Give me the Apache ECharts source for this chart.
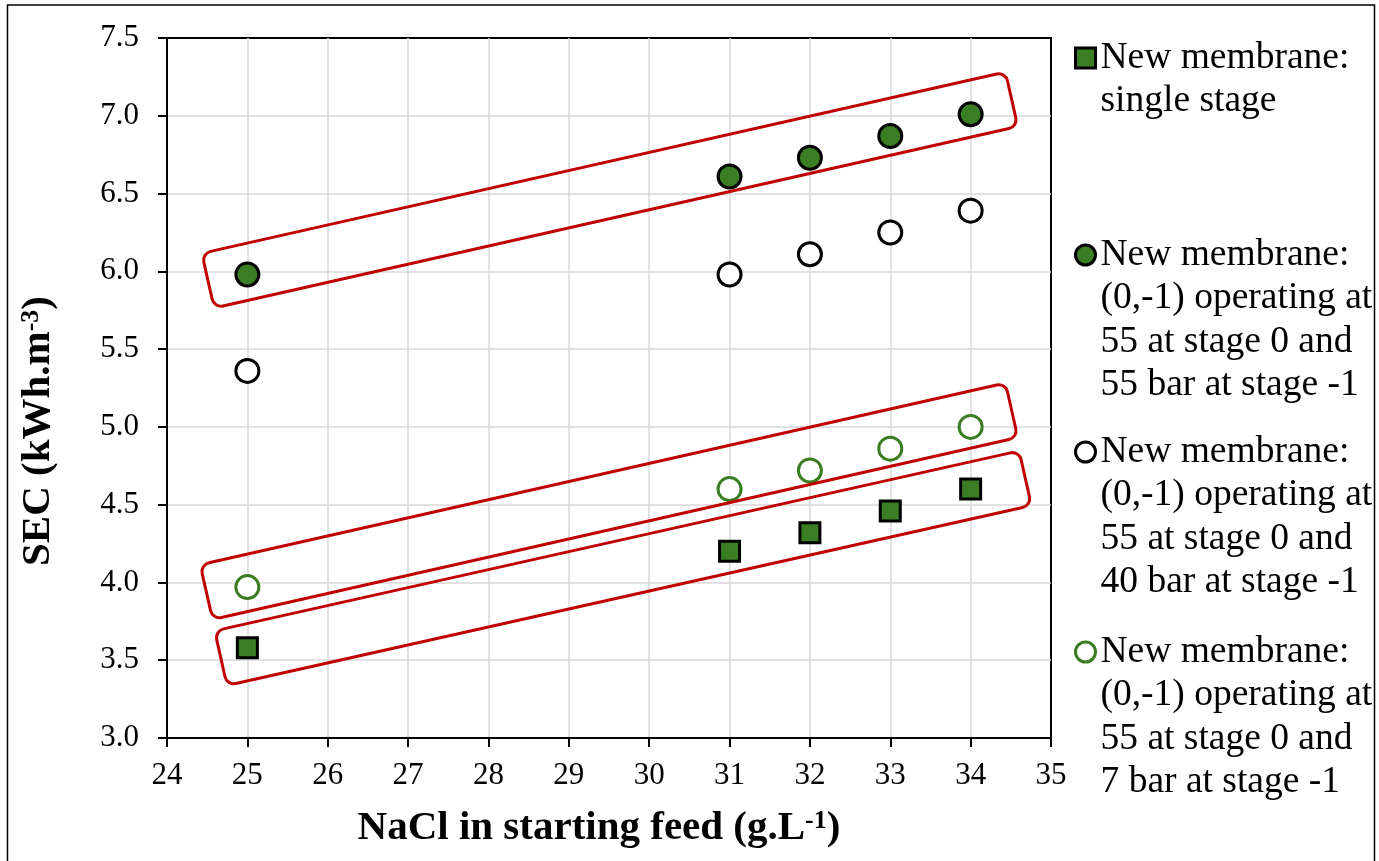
<!DOCTYPE html>
<html>
<head>
<meta charset="utf-8">
<script src="https://cdn.jsdelivr.net/npm/echarts@6/dist/echarts.min.js"></script>
<style>
html,body{margin:0;padding:0;background:#ffffff;}
#chart{width:1379px;height:861px;}
</style>
</head>
<body>
<div id="chart"></div>
<script>
// ---- data ----
const naclFeed = [25, 31, 32, 33, 34];
const secSingleStage = [3.58, 4.20, 4.32, 4.46, 4.60];
const secTwoStage55 = [5.98, 6.61, 6.73, 6.87, 7.01];
const secTwoStage40 = [5.36, 5.98, 6.11, 6.25, 6.39];
const secTwoStage7 = [3.97, 4.60, 4.72, 4.86, 5.00];
const xTickValues = [24, 25, 26, 27, 28, 29, 30, 31, 32, 33, 34, 35];
const yTickValues = [3.0, 3.5, 4.0, 4.5, 5.0, 5.5, 6.0, 6.5, 7.0, 7.5];
const seriesNames = [
  'New membrane: single stage',
  'New membrane: (0,-1) 55/55 bar',
  'New membrane: (0,-1) 55/40 bar',
  'New membrane: (0,-1) 55/7 bar'
];
const legendLines = [
  ['New membrane:', 'single stage'],
  ['New membrane:', '(0,-1) operating at', '55 at stage 0 and', '55 bar at stage -1'],
  ['New membrane:', '(0,-1) operating at', '55 at stage 0 and', '40 bar at stage -1'],
  ['New membrane:', '(0,-1) operating at', '55 at stage 0 and', '7 bar at stage -1']
];
// highlight boxes: centre-line end points in data units [x1, y1, x2, y2]
const highlightBoxes = [
  [24.51, 5.94, 34.51, 7.106],
  [24.49, 3.938, 34.51, 5.107],
  [24.67, 3.513, 34.68, 4.67]
];

// ---- styles ----
const FONT = '"Liberation Serif", "Times New Roman", serif';
const GREEN = '#3A7D22';
const RED = '#C00000';
const BOX_THICK = 56;
const LEG_FS = 37.5, LEG_LH = 43.5;
const legendIconY = [58, 255, 452, 652];

function pairs(ys) { return naclFeed.map((x, i) => [x, ys[i]]); }

const chart = echarts.init(document.getElementById('chart'), null, {renderer: 'canvas'});

// the icon sits beside the first text line: blank lines above balance the block
const legends = seriesNames.map((name, i) => {
  const n = legendLines[i].length;
  const boxH = (2 * n - 1) * LEG_LH;
  const text = new Array(n - 1).fill('').concat(legendLines[i]).join('\n');
  return {
    data: [name],
    orient: 'vertical',
    left: 1074,
    top: legendIconY[i] - boxH / 2,
    padding: 0,
    itemWidth: 20,
    itemHeight: 20,
    selectedMode: false,
    itemStyle: {borderWidth: 3, opacity: 1},
    formatter: () => text,
    textStyle: {
      fontFamily: FONT, fontSize: LEG_FS, lineHeight: LEG_LH, color: '#000'
    }
  };
});

const option = {
  backgroundColor: '#ffffff',
  animation: false,
  grid: {
    left: 167, top: 38, width: 884, height: 700,
    show: true, borderColor: '#000', borderWidth: 2, backgroundColor: 'transparent'
  },
  legend: legends,
  graphic: [{
    type: 'rect', silent: true, z: 0,
    shape: {x: 7.5, y: 5, width: 1367, height: 900},
    style: {fill: 'none', stroke: '#000', lineWidth: 1.5}
  }],
  xAxis: {
    type: 'value',
    min: xTickValues[0], max: xTickValues[xTickValues.length - 1], interval: 1,
    name: '{b|NaCl in starting feed (g.L}{s|-1}{b|)}',
    nameLocation: 'middle', nameGap: 70,
    nameTextStyle: {
      padding: [0, 20, 0, 0],
      rich: {
        b: {fontFamily: FONT, fontSize: 41, fontWeight: 'bold', lineHeight: 41, color: '#000'},
        s: {fontFamily: FONT, fontSize: 26, fontWeight: 'bold', lineHeight: 26, verticalAlign: 'top', color: '#000'}
      }
    },
    axisLine: {show: true, onZero: false, lineStyle: {color: '#000', width: 2}},
    axisTick: {show: true, inside: false, length: 9, lineStyle: {color: '#000', width: 2}},
    axisLabel: {fontFamily: FONT, fontSize: 31, color: '#000', margin: 22},
    splitLine: {show: true, showMinLine: false, showMaxLine: false, lineStyle: {color: '#d9d9d9', width: 1.5}}
  },
  yAxis: {
    type: 'value',
    min: yTickValues[0], max: yTickValues[yTickValues.length - 1], interval: 0.5,
    name: '{b|SEC (kWh.m}{s|-3}{b|)}',
    nameLocation: 'middle', nameGap: 108,
    nameTextStyle: {
      padding: [0, 86, 0, 0],
      rich: {
        b: {fontFamily: FONT, fontSize: 41, fontWeight: 'bold', lineHeight: 41, color: '#000'},
        s: {fontFamily: FONT, fontSize: 26, fontWeight: 'bold', lineHeight: 26, verticalAlign: 'top', color: '#000'}
      }
    },
    axisLine: {show: true, onZero: false, lineStyle: {color: '#000', width: 2}},
    axisTick: {show: true, inside: false, length: 9, lineStyle: {color: '#000', width: 2}},
    axisLabel: {fontFamily: FONT, fontSize: 31, color: '#000', margin: 28, formatter: v => v.toFixed(1)},
    splitLine: {show: true, showMinLine: false, showMaxLine: false, lineStyle: {color: '#d9d9d9', width: 1.5}}
  },
  series: [
    {
      name: seriesNames[0], type: 'scatter', data: pairs(secSingleStage),
      symbol: 'rect', symbolSize: 20, z: 3,
      itemStyle: {color: GREEN, borderColor: '#000', borderWidth: 3, opacity: 1},
      emphasis: {disabled: true}
    },
    {
      name: seriesNames[1], type: 'scatter', data: pairs(secTwoStage55),
      symbol: 'circle', symbolSize: 23, z: 3,
      itemStyle: {color: GREEN, borderColor: '#000', borderWidth: 3, opacity: 1},
      emphasis: {disabled: true}
    },
    {
      name: seriesNames[2], type: 'scatter', data: pairs(secTwoStage40),
      symbol: 'circle', symbolSize: 23, z: 3,
      itemStyle: {color: '#ffffff', borderColor: '#000', borderWidth: 3, opacity: 1},
      emphasis: {disabled: true}
    },
    {
      name: seriesNames[3], type: 'scatter', data: pairs(secTwoStage7),
      symbol: 'circle', symbolSize: 23, z: 3,
      itemStyle: {color: '#ffffff', borderColor: GREEN, borderWidth: 3, opacity: 1},
      emphasis: {disabled: true}
    },
    {
      name: 'highlight', type: 'custom', data: highlightBoxes,
      encode: {x: [0, 2], y: [1, 3]},
      clip: false, silent: true, z: 5,
      renderItem: function (params, api) {
        const a = api.coord([api.value(0), api.value(1)]);
        const b = api.coord([api.value(2), api.value(3)]);
        const dx = b[0] - a[0], dy = b[1] - a[1];
        const len = Math.hypot(dx, dy);
        return {
          type: 'rect',
          x: (a[0] + b[0]) / 2, y: (a[1] + b[1]) / 2,
          rotation: -Math.atan2(dy, dx),
          shape: {x: -len / 2, y: -BOX_THICK / 2, width: len, height: BOX_THICK, r: 9},
          style: {fill: 'none', stroke: RED, lineWidth: 3}
        };
      }
    }
  ]
};
chart.setOption(option);
</script>
</body>
</html>
